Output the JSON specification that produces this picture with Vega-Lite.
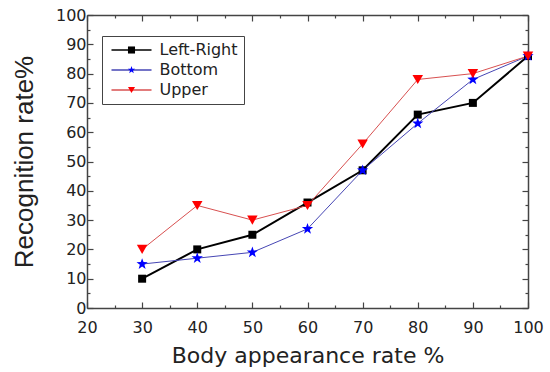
{
  "$schema": "https://vega.github.io/schema/vega-lite/v6.json",
  "width": 441,
  "height": 293,
  "autosize": "none",
  "padding": {"left": 87, "top": 15, "right": 22, "bottom": 64},
  "background": "white",
  "config": {
    "view": {"stroke": null},
    "axis": {
      "grid": false,
      "domainColor": "#444",
      "domainWidth": 1.5,
      "tickColor": "#444",
      "tickWidth": 1.2,
      "labelFont": "DejaVu Sans",
      "labelFontSize": 16,
      "labelColor": "#222",
      "titleColor": "#222",
      "titleFontWeight": "normal"
    }
  },
  "data": {
    "values": [
      {"series": "Left-Right", "x": 30, "y": 10},
      {"series": "Left-Right", "x": 40, "y": 20},
      {"series": "Left-Right", "x": 50, "y": 25},
      {"series": "Left-Right", "x": 60, "y": 36},
      {"series": "Left-Right", "x": 70, "y": 47},
      {"series": "Left-Right", "x": 80, "y": 66},
      {"series": "Left-Right", "x": 90, "y": 70},
      {"series": "Left-Right", "x": 100, "y": 86},
      {"series": "Bottom", "x": 30, "y": 15},
      {"series": "Bottom", "x": 40, "y": 17},
      {"series": "Bottom", "x": 50, "y": 19},
      {"series": "Bottom", "x": 60, "y": 27},
      {"series": "Bottom", "x": 70, "y": 47},
      {"series": "Bottom", "x": 80, "y": 63},
      {"series": "Bottom", "x": 90, "y": 78},
      {"series": "Bottom", "x": 100, "y": 86},
      {"series": "Upper", "x": 30, "y": 20},
      {"series": "Upper", "x": 40, "y": 35},
      {"series": "Upper", "x": 50, "y": 30},
      {"series": "Upper", "x": 60, "y": 35},
      {"series": "Upper", "x": 70, "y": 56},
      {"series": "Upper", "x": 80, "y": 78},
      {"series": "Upper", "x": 90, "y": 80},
      {"series": "Upper", "x": 100, "y": 86}
    ]
  },
  "layer": [
    {
      "mark": {"type": "line", "clip": false},
      "encoding": {
        "x": {
          "field": "x", "type": "quantitative",
          "scale": {"domain": [20, 100], "nice": false, "zero": false},
          "axis": {
            "orient": "bottom",
            "values": [20, 25, 30, 35, 40, 45, 50, 55, 60, 65, 70, 75, 80, 85, 90, 95, 100],
            "labelExpr": "datum.value % 10 === 0 ? datum.label : ''",
            "tickSize": {"condition": {"test": "datum.value % 10 === 0", "value": -6}, "value": -3},
            "labelPadding": 17,
            "labelFlush": false,
            "title": "Body appearance rate %",
            "titleFont": "DejaVu Sans",
            "titleFontSize": 22,
            "titlePadding": 10
          }
        },
        "y": {
          "field": "y", "type": "quantitative",
          "scale": {"domain": [0, 100], "nice": false},
          "axis": {
            "orient": "left",
            "values": [0, 5, 10, 15, 20, 25, 30, 35, 40, 45, 50, 55, 60, 65, 70, 75, 80, 85, 90, 95, 100],
            "labelExpr": "datum.value % 10 === 0 ? datum.label : ''",
            "tickSize": {"condition": {"test": "datum.value % 10 === 0", "value": -6}, "value": -3},
            "labelPadding": 7,
            "labelFlush": false,
            "title": "Recognition rate%",
            "titleFont": "Liberation Sans",
            "titleFontSize": 26,
            "titlePadding": 18
          }
        },
        "stroke": {
          "field": "series", "type": "nominal",
          "sort": ["Left-Right", "Bottom", "Upper"],
          "scale": {"range": ["#000000", "#4646b4", "#d85050"]},
          "legend": {
            "orient": "none",
            "legendX": 15,
            "legendY": 21,
            "title": null,
            "symbolType": "M-5.66,0H5.66",
            "symbolSize": 50,
            "symbolStrokeWidth": 1.5,
            "symbolOffset": 15.5,
            "labelOffset": 20,
            "labelFont": "DejaVu Sans",
            "labelFontSize": 16,
            "labelColor": "#222",
            "rowPadding": 4,
            "padding": 6,
            "strokeColor": "#444",
            "zindex": 1
          }
        },
        "strokeWidth": {"condition": {"test": "datum.series === 'Left-Right'", "value": 2}, "value": 1}
      }
    },
    {
      "mark": {"type": "point", "filled": true, "opacity": 1, "clip": false},
      "encoding": {
        "x": {
          "field": "x", "type": "quantitative",
          "axis": {
            "orient": "top",
            "values": [20, 25, 30, 35, 40, 45, 50, 55, 60, 65, 70, 75, 80, 85, 90, 95, 100],
            "labels": false,
            "title": null,
            "tickSize": {"condition": {"test": "datum.value % 10 === 0", "value": -6}, "value": -3}
          }
        },
        "y": {
          "field": "y", "type": "quantitative",
          "axis": {
            "orient": "right",
            "values": [0, 5, 10, 15, 20, 25, 30, 35, 40, 45, 50, 55, 60, 65, 70, 75, 80, 85, 90, 95, 100],
            "labels": false,
            "title": null,
            "tickSize": {"condition": {"test": "datum.value % 10 === 0", "value": -6}, "value": -3}
          }
        },
        "shape": {
          "field": "series", "type": "nominal",
          "scale": {"domain": ["Left-Right", "Bottom", "Upper"], "range": ["square", "M0,-1.1L0.26,-0.36L1.05,-0.34L0.42,0.14L0.65,0.9L0,0.44L-0.65,0.9L-0.42,0.14L-1.05,-0.34L-0.26,-0.36Z", "triangle-down"]},
          "legend": {
            "orient": "none",
            "legendX": 15,
            "legendY": 21,
            "title": null,
            "symbolSize": 50,
            "symbolStrokeWidth": 1.5,
            "symbolOffset": 15.5,
            "labelOffset": 20,
            "labelFont": "DejaVu Sans",
            "labelFontSize": 16,
            "labelOpacity": 0,
            "rowPadding": 4,
            "padding": 6,
            "zindex": 2
          }
        },
        "fill": {
          "field": "series", "type": "nominal",
          "scale": {"domain": ["Left-Right", "Bottom", "Upper"], "range": ["#000000", "#0000ff", "#ff0000"]},
          "legend": {
            "orient": "none",
            "legendX": 15,
            "legendY": 21,
            "title": null,
            "symbolSize": 50,
            "symbolStrokeWidth": 1.5,
            "symbolOffset": 15.5,
            "labelOffset": 20,
            "labelFont": "DejaVu Sans",
            "labelFontSize": 16,
            "labelOpacity": 0,
            "rowPadding": 4,
            "padding": 6,
            "zindex": 2
          }
        },
        "size": {
          "condition": [
            {"test": "datum.series === 'Left-Right'", "value": 64},
            {"test": "datum.series === 'Bottom'", "value": 115}
          ],
          "value": 110
        }
      }
    }
  ],
  "resolve": {"axis": {"x": "independent", "y": "independent"}}
}
